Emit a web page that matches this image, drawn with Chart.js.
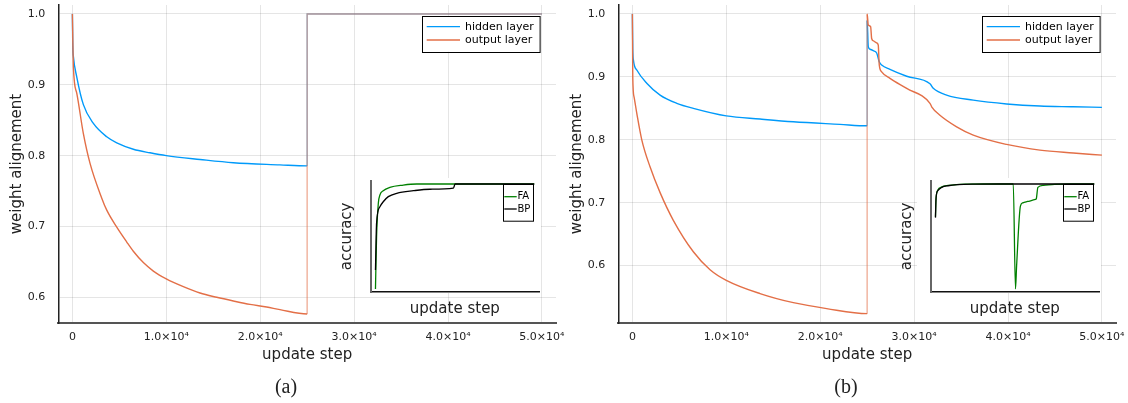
<!DOCTYPE html>
<html>
<head>
<meta charset="utf-8">
<script src="https://cdn.jsdelivr.net/npm/chart.js@4.4.1/dist/chart.umd.min.js"></script>
<style>
  body { margin: 0; background: #fff; }
  #wrap { position: relative; width: 1128px; height: 403px; }
  canvas { position: absolute; }
</style>
</head>
<body>
<div id="wrap">
  <canvas id="mainA" width="570" height="403" style="left:0;top:0"></canvas>
  <canvas id="mainB" width="568" height="403" style="left:560px;top:0"></canvas>
  <canvas id="insetA" width="210" height="146" style="left:335px;top:176px"></canvas>
  <canvas id="insetB" width="210" height="146" style="left:895px;top:176px"></canvas>
</div>
<script>
// ticks
const xTickValues = [0, 10000, 20000, 30000, 40000, 50000];
const xTickLabels = ['0', '1.0×10⁴', '2.0×10⁴', '3.0×10⁴', '4.0×10⁴', '5.0×10⁴'];
const yTickValues = [0.6, 0.7, 0.8, 0.9, 1.0];
const yTickLabels = ['0.6', '0.7', '0.8', '0.9', '1.0'];

// (a) weight alignment
const hiddenStepsA = [0, 40, 107, 468, 1170, 2235, 3660, 4726, 6493, 8270, 10000, 13590, 17140, 22100, 25000, 25000, 50000];
const hiddenA = [1.0, 0.955, 0.94, 0.911, 0.872, 0.8455, 0.8266, 0.818, 0.809, 0.804, 0.800, 0.7946, 0.790, 0.787, 0.7855, 1.0, 1.0];
const outputStepsA = [0, 107, 470, 1170, 1880, 3129, 3660, 4726, 5790, 6490, 7557, 8622, 10000, 11815, 13592, 15370,
  17140, 18914, 20690, 22108, 25000, 25000, 50000];
const outputA = [1.0, 0.925, 0.888, 0.831, 0.789, 0.740, 0.723, 0.699, 0.678, 0.665, 0.649, 0.637, 0.626, 0.615, 0.606, 0.600,
  0.5948, 0.590, 0.5863, 0.5826, 0.5765, 1.0, 1.0];

// (b) weight alignment
const hiddenStepsB = [0, 40, 107, 470, 1530, 2950, 4730, 6490, 10000, 13590, 17140, 22100, 25000,
  25000, 25120, 25300, 25650, 26014, 26290, 26545, 27430, 29210, 31690, 32040, 33460, 36300, 39850, 43400, 46940, 50000];
const hiddenB = [1.0, 0.945, 0.927, 0.911, 0.89, 0.871, 0.858, 0.85, 0.838, 0.833, 0.8286, 0.8245, 0.8222,
  0.99, 0.948, 0.944, 0.9416, 0.938, 0.924, 0.919, 0.912, 0.901, 0.889, 0.882, 0.871, 0.863, 0.857, 0.8536, 0.8525, 0.8515];
const outputStepsB = [0, 40, 180, 470, 1000, 1880, 2950, 4360, 6490, 8270, 10000, 13590, 17140, 20690, 25000,
  25000, 25120, 25370, 25480, 25650, 26010, 26180, 26290, 26545, 27430, 29210, 31690, 31870, 32750, 34530, 36300, 39850, 43400, 46940, 50000];
const outputB = [1.0, 0.9, 0.868, 0.842, 0.8, 0.757, 0.716, 0.672, 0.622, 0.5935, 0.5766, 0.5555, 0.541, 0.5316, 0.5236,
  1.0, 0.9825, 0.98, 0.961, 0.9575, 0.954, 0.9507, 0.919, 0.908, 0.8977, 0.8817, 0.858, 0.8525, 0.839, 0.8206, 0.8074, 0.7926, 0.7835, 0.779, 0.7756];

// insets: accuracy
const faStepsA = [0, 0.7, 1.8, 2.8, 4.9, 9.1, 17.5, 26, 100];
const faA = [0.2, 0.59, 0.837, 0.898, 0.93, 0.955, 0.972, 0.98, 0.98];
const bpStepsA = [0, 0.7, 2.8, 4.9, 8.1, 13.4, 23.9, 34.4, 49.1, 50.2, 100];
const bpA = [0.341, 0.69, 0.811, 0.848, 0.886, 0.911, 0.93, 0.941, 0.95, 0.98, 0.98];

const faStepsB = [0, 0.3, 1.5, 4, 8, 13, 20, 30, 49, 50.4, 51.1, 53.5, 55, 58, 63, 63.5, 64.5, 68, 75, 85, 100];
const faB = [0.737, 0.861, 0.935, 0.958, 0.969, 0.976, 0.979, 0.98, 0.98, 0.2, 0.37, 0.815, 0.84, 0.85, 0.865, 0.87, 0.955, 0.97, 0.977, 0.98, 0.98];
const bpStepsB = [0, 0.4, 1.5, 4, 8, 14, 25, 40, 100];
const bpB = [0.73, 0.88, 0.93, 0.955, 0.967, 0.975, 0.979, 0.98, 0.98];

const BLUE = '#009AFA', ORANGE = '#E36F47';
const BLUE_FADE = 'rgba(0,154,250,0.55)', ORANGE_FADE = 'rgba(227,111,71,0.55)';

Chart.defaults.font.family = '"DejaVu Sans"';
Chart.defaults.color = '#222';

const pts = (xs, ys) => xs.map((x, i) => ({ x: x, y: ys[i] }));

// boxed legend inside the plot, like Plots.jl
const boxLegend = {
  id: 'boxLegend',
  afterDatasetsDraw(chart, args, o) {
    const { ctx, chartArea } = chart;
    const x = chartArea.right - o.right - o.width, y = chartArea.top + o.top;
    ctx.save();
    ctx.fillStyle = '#fff';
    ctx.fillRect(x, y, o.width, o.height);
    ctx.strokeStyle = '#000';
    ctx.lineWidth = 1;
    ctx.strokeRect(Math.round(x) + 0.5, Math.round(y) + 0.5, o.width, o.height);
    ctx.font = o.size + 'px "DejaVu Sans"';
    ctx.textBaseline = 'middle';
    chart.data.datasets.forEach((ds, i) => {
      const ly = y + o.first + i * o.gap;
      ctx.strokeStyle = ds.borderColor;
      ctx.lineWidth = 1.3;
      ctx.beginPath();
      ctx.moveTo(x + o.lineStart, ly);
      ctx.lineTo(x + o.lineStart + o.lineLen, ly);
      ctx.stroke();
      ctx.fillStyle = '#000';
      ctx.fillText(ds.label, x + o.lineStart + o.lineLen + o.textGap, ly);
    });
    ctx.restore();
  }
};

const caption = {
  id: 'caption',
  afterDraw(chart, args, o) {
    if (!o.text) return;
    const ctx = chart.ctx;
    ctx.save();
    ctx.font = '20px "Liberation Serif"';
    ctx.fillStyle = '#222';
    ctx.textAlign = 'center';
    ctx.textBaseline = 'middle';
    ctx.fillText(o.text, o.x, o.y);
    ctx.restore();
  }
};

const whiteBack = {
  id: 'whiteBack',
  beforeDraw(chart, args, o) {
    if (!o.on) return;
    const { ctx, chartArea: a } = chart;
    ctx.save();
    ctx.fillStyle = '#fff';
    ctx.fillRect(a.left - o.left, a.top - o.top, a.width + o.left + o.right, a.height + o.top + o.bottom);
    ctx.restore();
  }
};

function mainChart(id, padRight, hidden, output, yMin, yMax, fade, text) {
  return new Chart(document.getElementById(id), {
    type: 'line',
    data: {
      datasets: [
        { label: 'hidden layer', data: hidden, borderColor: BLUE, order: 1,
          segment: { borderColor: c => fade(c) ? BLUE_FADE : undefined } },
        { label: 'output layer', data: output, borderColor: ORANGE, order: 0,
          segment: { borderColor: c => fade(c) ? ORANGE_FADE : undefined } }
      ]
    },
    options: {
      responsive: false,
      animation: false,
      layout: { padding: { left: 0, right: padRight, top: 5, bottom: 39 } },
      elements: {
        point: { radius: 0 },
        line: { borderWidth: 1.4, cubicInterpolationMode: 'monotone' }
      },
      plugins: {
        legend: { display: false },
        tooltip: { enabled: false },
        boxLegend: { right: 16.7, top: 10.7, width: 117.6, height: 36, first: 11, gap: 13.3,
                     lineStart: 5, lineLen: 33.3, textGap: 5, size: 11 },
        caption: { text: text, x: 286, y: 388 },
        whiteBack: { on: false }
      },
      scales: {
        x: {
          type: 'linear', min: -1500, max: 51500,
          afterBuildTicks: s => { s.ticks = xTickValues.map(v => ({ value: v })); },
          afterFit: s => { s.height = 41; s.paddingLeft = 0; s.paddingRight = 0; },
          ticks: { callback: (v, i) => xTickLabels[i], autoSkip: false, maxRotation: 0, padding: 8, font: { size: 11 } },
          grid: { color: 'rgba(0,0,0,0.1)', drawTicks: false },
          border: { color: '#555', width: 2 },
          title: { display: true, text: 'update step', font: { size: 15 }, padding: 0 }
        },
        y: {
          min: yMin, max: yMax,
          afterBuildTicks: s => { s.ticks = yTickValues.map(v => ({ value: v })); },
          afterFit: s => { s.width = 58.3; s.paddingTop = 0; s.paddingBottom = 0; },
          ticks: { callback: (v, i) => yTickLabels[i], padding: 13, font: { size: 11 } },
          grid: { color: 'rgba(0,0,0,0.1)', drawTicks: false },
          border: { color: '#222', width: 1.5 },
          title: { display: true, text: 'weight alignement', font: { size: 15 }, padding: { top: 8.5, bottom: 0 } }
        }
      }
    },
    plugins: [boxLegend, caption, whiteBack]
  });
}

function insetChart(id, fa, bp) {
  return new Chart(document.getElementById(id), {
    type: 'line',
    data: {
      datasets: [
        { label: 'FA', data: fa, borderColor: 'rgb(0,128,0)', order: 1 },
        { label: 'BP', data: bp, borderColor: '#000', order: 0 }
      ]
    },
    options: {
      responsive: false,
      animation: false,
      layout: { padding: { left: 0, right: 6, top: 4.7, bottom: 0 } },
      elements: {
        point: { radius: 0 },
        line: { borderWidth: 1.3, cubicInterpolationMode: 'monotone' }
      },
      plugins: {
        legend: { display: false },
        tooltip: { enabled: false },
        boxLegend: { right: 5.7, top: 3.3, width: 30, height: 36.7, first: 12.7, gap: 12.3,
                     lineStart: 1, lineLen: 12.4, textGap: 0.8, size: 10 },
        caption: { text: '' },
        whiteBack: { on: true, left: 13.7, top: 2.7, right: 2, bottom: 1 }
      },
      scales: {
        x: {
          type: 'linear', min: -3, max: 103,
          afterFit: s => { s.height = 30; s.paddingLeft = 0; s.paddingRight = 0; },
          ticks: { display: false },
          grid: { display: false },
          border: { color: '#111', width: 1.5 },
          title: { display: true, text: 'update step', font: { size: 15 }, padding: { top: 0, bottom: 3.5 } }
        },
        y: {
          min: 0.177, max: 1.0045,
          afterFit: s => { s.width = 35.7; s.paddingTop = 0; s.paddingBottom = 0; },
          ticks: { display: false },
          grid: { display: false },
          border: { color: '#666', width: 2 },
          title: { display: true, text: 'accuracy', font: { size: 15 }, padding: { top: 3, bottom: 0 } }
        }
      }
    },
    plugins: [boxLegend, caption, whiteBack]
  });
}

mainChart('mainA', 14, pts(hiddenStepsA, hiddenA), pts(outputStepsA, outputA), 0.5637, 1.0127,
  c => c.p0.parsed.x >= 25000 && c.p1.parsed.x >= 25000, '(a)');
mainChart('mainB', 12, pts(hiddenStepsB, hiddenB), pts(outputStepsB, outputB), 0.5087, 1.0143,
  c => c.p0.parsed.x === c.p1.parsed.x && c.p0.parsed.x > 0, '(b)');
insetChart('insetA', pts(faStepsA, faA), pts(bpStepsA, bpA));
insetChart('insetB', pts(faStepsB, faB), pts(bpStepsB, bpB));
</script>
</body>
</html>
